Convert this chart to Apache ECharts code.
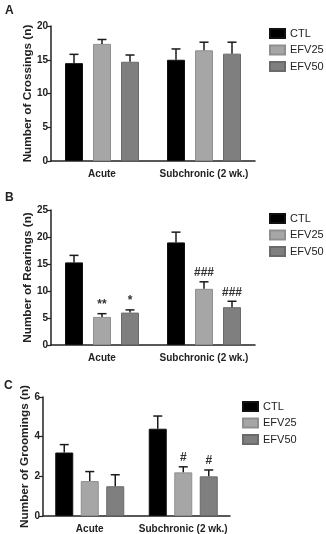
<!DOCTYPE html>
<html>
<head>
<meta charset="utf-8">
<script src="https://cdn.jsdelivr.net/npm/echarts@6/dist/echarts.min.js"></script>
<style>
  html, body { margin: 0; padding: 0; background: #fff; }
  #chart { width: 326px; height: 534px; }
</style>
</head>
<body>
<div id="chart"></div>
<script>
const groups = ['Acute', 'Subchronic (2 wk.)']
const seriesNames = ['CTL', 'EFV25', 'EFV50']
const colors = ['#000000', '#a6a6a6', '#7f7f7f']
const borders = ['#111111', '#8f8f8f', '#6a6a6a']

// A: crossings (mean, SEM)
const crossMean = [[14.5, 15.0], [17.35, 16.4], [14.7, 15.9]]
const crossSem = [[1.3, 1.6], [0.65, 1.2], [1.0, 1.7]]
const crossMarks = [['', ''], ['', ''], ['', '']]
// B: rearings
const rearMean = [[15.3, 19.0], [5.2, 10.4], [6.0, 7.0]]
const rearSem = [[1.3, 1.9], [0.6, 1.3], [0.5, 1.1]]
const rearMarks = [['', ''], ['**', '###'], ['*', '###']]
// C: groomings
const groomMean = [[3.2, 4.4], [1.76, 2.2], [1.5, 2.0]]
const groomSem = [[0.4, 0.64], [0.48, 0.28], [0.58, 0.32]]
const groomMarks = [['', ''], ['', '#'], ['', '#']]

const panels = [
  { letter: 'A', name: 'Number of Crossings (n)', mean: crossMean, sem: crossSem, marks: crossMarks,
    max: 20, interval: 5, grid: { left: 51, right: 71, top: 26, height: 135 }, bw: 18, gap: 10, nameGap: 17,
    legend: { left: 269, top: 28 }, letterPos: [5, 5] },
  { letter: 'B', name: 'Number of Rearings (n)', mean: rearMean, sem: rearSem, marks: rearMarks,
    max: 25, interval: 5, grid: { left: 51, right: 71, top: 210, height: 135 }, bw: 18, gap: 10, nameGap: 17,
    legend: { left: 269, top: 213 }, letterPos: [5, 192] },
  { letter: 'C', name: 'Number of Groomings (n)', mean: groomMean, sem: groomSem, marks: groomMarks,
    max: 6, interval: 2, grid: { left: 43, right: 96, top: 397, height: 125 }, bw: 18, gap: 7.5, nameGap: 12,
    legend: { left: 242, top: 401 }, letterPos: [4, 380] }
]

const txt = '#222'
const grid = [], xAxis = [], yAxis = [], legend = [], series = [], graphic = []

panels.forEach((p, pi) => {
  grid.push(p.grid)
  xAxis.push({
    type: 'category', gridIndex: pi, data: groups,
    axisLine: { lineStyle: { color: txt, width: 1.5 } },
    axisTick: { alignWithLabel: true, length: 4, lineStyle: { color: txt, width: 1.2 } },
    axisLabel: { interval: 0, color: txt, fontSize: 10, fontWeight: 'bold', margin: 8, fontFamily: 'Liberation Sans' }
  })
  yAxis.push({
    type: 'value', gridIndex: pi, min: 0, max: p.max, interval: p.interval,
    name: p.name, nameLocation: 'middle', nameGap: p.nameGap, nameMoveOverlap: false,
    nameTextStyle: { color: txt, fontSize: 11.75, fontWeight: 'bold', fontFamily: 'Liberation Sans' },
    axisLine: { show: true, lineStyle: { color: txt, width: 1.5 } },
    axisTick: { show: true, length: 4, lineStyle: { color: txt, width: 1.2 } },
    axisLabel: { color: txt, fontSize: 10, fontWeight: 'bold', margin: 3, fontFamily: 'Liberation Sans' },
    splitLine: { show: false }
  })
  legend.push({
    data: seriesNames, orient: 'vertical', left: p.legend.left, top: p.legend.top,
    padding: 0, itemWidth: 15, itemHeight: 9, itemGap: 5.5, selectedMode: false,
    textStyle: { color: txt, fontSize: 11, fontFamily: 'Liberation Sans' },
    icon: 'rect'
  })
  graphic.push({
    type: 'text', left: p.letterPos[0], top: p.letterPos[1],
    style: { text: p.letter, fill: txt, font: 'bold 12px "Liberation Sans"' }
  })

  const barGap = (p.gap / p.bw * 100) + '%'
  seriesNames.forEach((sn, si) => {
    series.push({
      type: 'bar', name: sn, xAxisIndex: pi, yAxisIndex: pi,
      data: p.mean[si], barWidth: p.bw, barGap: barGap,
      itemStyle: { color: colors[si], borderColor: borders[si], borderWidth: 1 },
      z: 2
    })
    const off = (si - 1) * (p.bw + p.gap)
    const marks = p.marks[si]
    series.push({
      type: 'custom', name: sn + '-err-' + pi, xAxisIndex: pi, yAxisIndex: pi,
      data: p.mean[si].map((m, i) => [i, m, p.sem[si][i]]),
      silent: true, z: 3,
      renderItem: (params, api) => {
        const c = api.value(0), m = api.value(1), s = api.value(2)
        const b = api.coord([c, m]), t = api.coord([c, m + s])
        const x = b[0] + off
        const children = [
          { type: 'line', shape: { x1: x, y1: b[1], x2: x, y2: t[1] }, style: { stroke: '#1a1a1a', lineWidth: 1.5 } },
          { type: 'line', shape: { x1: x - 4.5, y1: t[1], x2: x + 4.5, y2: t[1] }, style: { stroke: '#1a1a1a', lineWidth: 1.5 } }
        ]
        const mk = marks[params.dataIndex]
        if (mk) {
          children.push({
            type: 'text', x: x, y: t[1] - 3,
            style: { text: mk, fill: '#333', font: 'bold 12px "Liberation Sans"', align: 'center', verticalAlign: 'bottom' }
          })
        }
        return { type: 'group', children: children }
      }
    })
  })
})

const chart = echarts.init(document.getElementById('chart'), null, { renderer: 'canvas' })
chart.setOption({
  animation: false,
  backgroundColor: '#fff',
  grid, xAxis, yAxis, legend, series, graphic
})
</script>
</body>
</html>
